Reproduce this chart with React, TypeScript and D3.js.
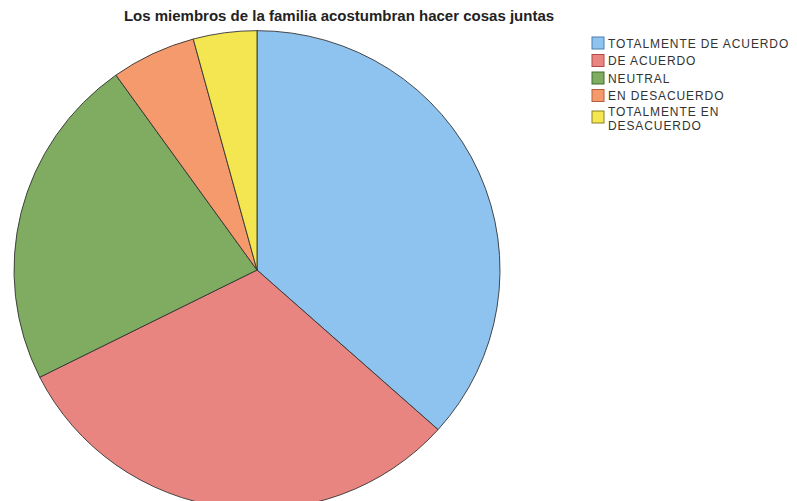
import React, { useEffect, useRef } from "react";
import * as d3 from "d3";

const TITLE = "Los miembros de la familia acostumbran hacer cosas juntas";
const categories = [
  "TOTALMENTE DE ACUERDO",
  "DE ACUERDO",
  "NEUTRAL",
  "EN DESACUERDO",
  "TOTALMENTE EN DESACUERDO",
];
const values = [26, 22, 16, 4, 3];
const colors = ["#8ec3f0", "#e98580", "#7fac60", "#f59a6c", "#f3e650"];
const borders = ["#4a7fb0", "#b04a48", "#3f6e2c", "#b0603a", "#8a8020"];
const legendLines = [["TOTALMENTE DE ACUERDO"], ["DE ACUERDO"], ["NEUTRAL"], ["EN DESACUERDO"], ["TOTALMENTE EN", "DESACUERDO"]];

export default function App() {
  const ref = useRef<SVGSVGElement>(null);
  useEffect(() => {
    const svg = d3.select(ref.current);
    svg.selectAll("*").remove();
    const W = 797, H = 501;
    svg.append("rect").attr("width", W).attr("height", H).attr("fill", "#fff");

    svg.append("text")
      .attr("x", 339).attr("y", 21)
      .attr("text-anchor", "middle")
      .attr("font-family", "Liberation Sans, Arial, sans-serif")
      .attr("font-weight", "bold")
      .attr("font-size", 15)
      .attr("fill", "#222")
      .text(TITLE);

    const cx = 257, cy = 270, r = 243;
    const data = categories.map((c, i) => ({ c, v: values[i], i }));
    const pie = d3.pie<any>().sort(null).value((d) => d.v);
    const arc = d3.arc<any>().innerRadius(0).outerRadius(r);
    const g = svg.append("g").attr("transform", `translate(${cx},${cy}) scale(1,0.985)`);
    g.selectAll("path").data(pie(data)).join("path")
      .attr("d", arc)
      .attr("fill", (d: any) => colors[d.data.i])
      .attr("stroke", "#333")
      .attr("stroke-width", 0.9);

    const lg = svg.append("g").attr("font-family", "Liberation Sans, Arial, sans-serif").attr("font-size", 12).attr("fill", "#333");
    const rowsY = [37, 54.5, 72, 89.5, 107];
    legendLines.forEach((lines, i) => {
      const y = rowsY[i];
      const sy = lines.length > 1 ? y + 4 : y;
      lg.append("rect").attr("x", 592).attr("y", sy).attr("width", 12).attr("height", 12)
        .attr("fill", colors[i]).attr("stroke", borders[i]).attr("stroke-width", 1);
      lines.forEach((t, k) => {
        const ty = lines.length > 1 ? y + 8.5 + k * 14 : y + 10.5;
        lg.append("text").attr("x", 608).attr("y", ty)
          .attr("letter-spacing", 0.9)
          .text(t);
      });
    });
  }, []);
  return <svg ref={ref} width={797} height={501} style={{ display: "block", position: "absolute", left: 0, top: 0 }} />;
}
